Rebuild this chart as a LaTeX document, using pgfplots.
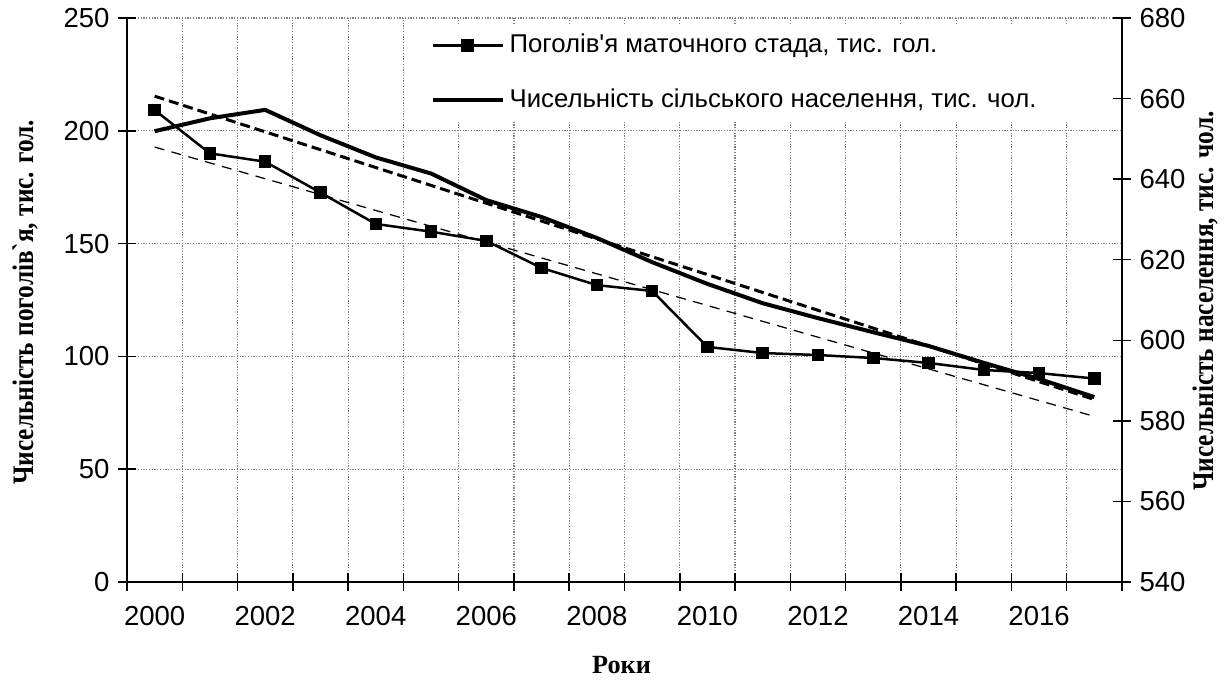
\documentclass[border=0pt]{standalone}
\usepackage{fontspec}
\setmainfont{Liberation Sans}[Ligatures=TeXOff]
\newfontfamily\lblfont{Liberation Serif}[Ligatures=TeXOff]
\newfontfamily\ylblfont{Liberation Serif}[Ligatures=TeXOff, FakeStretch=0.85]
\usepackage{pgfplots}
\pgfplotsset{compat=1.18}

\pgfplotsset{
  common/.style={
    scale only axis, width=398pt, height=225.6pt,
    xmin=-0.5, xmax=17.5,
    tick align=center, major tick length=7pt,
    tick style={black, line width=0.6pt},
    axis line style={black, line width=0.6pt, -},
    tick label style={font=\fontsize{11}{13}\selectfont},
    /pgf/number format/assume math mode=true,
    ylabel style={font=\ylblfont\bfseries\fontsize{11.9}{14}\selectfont},
  },
}

\begin{document}
\begin{tikzpicture}
\path[use as bounding box] (-50.8pt,-38.8pt) rectangle (439.6pt,232.8pt);
\begin{axis}[
  common,
  ymin=0, ymax=250, ytick={0,50,...,250},
  axis x line*=bottom, axis y line*=left,
  xtick={-0.5,0.5,...,17.5}, xticklabels={},
  extra x ticks={0,2,4,6,8,10,12,14,16},
  extra x tick labels={2000,2002,2004,2006,2008,2010,2012,2014,2016},
  extra x tick style={major tick length=0pt, grid=none,
    tick label style={yshift=-6pt}},
  grid=major, grid style={gray, dash pattern=on 0.5pt off 0.6pt, line width=0.45pt},
  xlabel={Роки},
  xlabel style={font=\lblfont\bfseries\fontsize{10.5}{12}\selectfont,
    at={(axis description cs:0.497,-0.147)}, anchor=center},
  ylabel={Чисельність поголів`я, тис. гол.},
  ylabel style={at={(axis description cs:-0.1025,0.496)}, anchor=center},
  legend style={at={(0.2795,0.99)}, anchor=north west, draw=none, fill=white,
    font=\fontsize{10.3}{12}\selectfont, row sep=9pt,
    inner xsep=10pt, inner ysep=2pt, cells={anchor=west}},
  legend image code/.code={
    \draw[mark repeat=2, mark phase=2, #1]
      plot coordinates {(0pt,0pt) (14pt,0pt) (28pt,0pt)};},
]
\addplot[black, line width=1pt, mark=square*, mark size=2pt,
  mark options={solid}] coordinates {
  (0,209.2) (1,190.0) (2,186.3) (3,172.6) (4,158.7) (5,155.3)
  (6,151.2) (7,139.2) (8,131.6) (9,129.0) (10,104.2) (11,101.5)
  (12,100.6) (13,99.3) (14,97.1) (15,94.0) (16,92.6) (17,90.2)};
\addlegendentry{Поголів'я маточного стада, тис. гол.}
\addplot[black, line width=0.5pt, dash pattern=on 4pt off 3pt, forget plot]
  coordinates {(0,192.8) (17,73.4)};
\addlegendimage{black, line width=1.6pt}
\addlegendentry{Чисельність сільського населення, тис. чол.}
\end{axis}
\begin{axis}[
  common,
  ymin=540, ymax=680, ytick={540,560,...,680},
  axis y line*=right, axis x line=none,
  ylabel={Чисельність населення, тис. чол.},
  ylabel style={at={(axis description cs:1.0835,0.498)}, anchor=center},
]
\addplot[black, line width=1.2pt, dash pattern=on 4pt off 2pt]
  coordinates {(0,660.6) (17,585.3)};
\addplot[black, line width=1.6pt] coordinates {
  (0,651.9) (1,655.1) (2,657.2) (3,650.9) (4,645.4) (5,641.4)
  (6,634.8) (7,630.6) (8,625.4) (9,619.4) (10,614.0) (11,609.2)
  (12,605.5) (13,602.0) (14,598.6) (15,594.4) (16,590.4) (17,585.9)};
\end{axis}
\end{tikzpicture}
\end{document}
